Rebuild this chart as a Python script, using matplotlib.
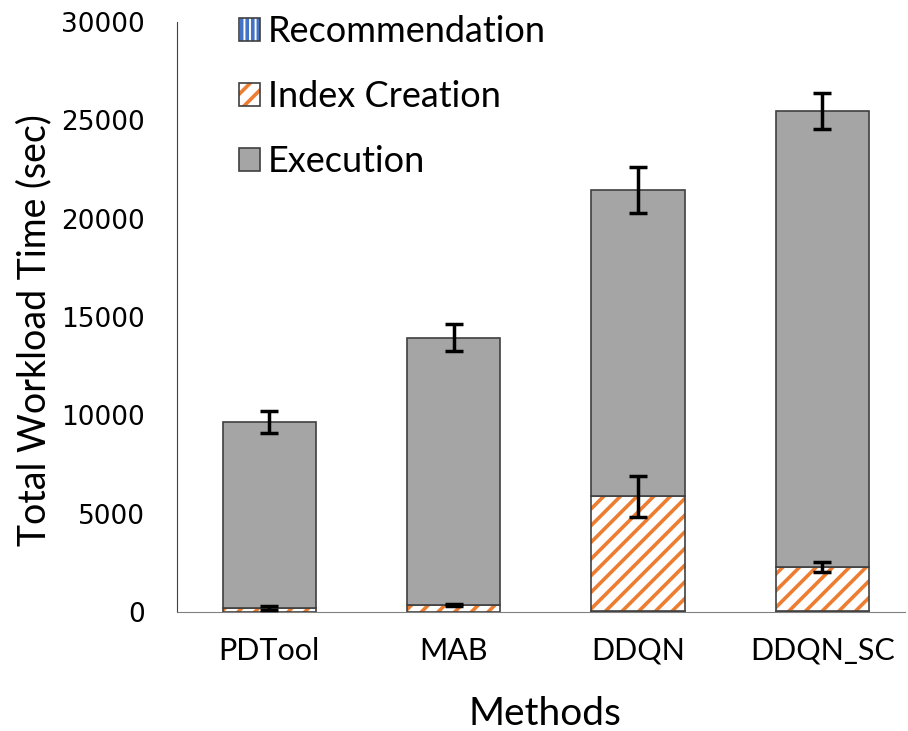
import numpy as np
import matplotlib.pyplot as plt
from matplotlib.patches import Patch
from matplotlib.legend_handler import HandlerTuple

# workload time breakdown per method (seconds)
methods = ["PDTool", "MAB", "DDQN", "DDQN_SC"]
recommendation = [10, 10, 20, 20]
index_creation = [200, 350, 5850, 2250]
index_err = [100, 50, 1050, 250]
execution = [9440, 13590, 15580, 23180]
total_err = [550, 680, 1170, 920]

GRAY = "#a5a5a5"
ORANGE = "#ed7d31"
BLUE = "#4472c4"
EDGE = "#404040"

plt.rcParams["hatch.linewidth"] = 2.6

fig = plt.figure(figsize=(9.08, 7.31), dpi=100)
ax = fig.add_axes([0.195, 0.163, 0.802, 0.807])

x = np.arange(len(methods))
w = 0.505
rec = np.array(recommendation)
idx = np.array(index_creation)
exe = np.array(execution)

# recommendation (bottom, vertical blue stripes)
ax.bar(x, rec, w, color="white", edgecolor=BLUE, hatch="|||", linewidth=0)
ax.bar(x, rec, w, fill=False, edgecolor=EDGE, linewidth=1.2)
# index creation (orange diagonal stripes)
ax.bar(x, idx, w, bottom=rec, color="white", edgecolor=ORANGE, hatch="//", linewidth=0)
ax.bar(x, idx, w, bottom=rec, fill=False, edgecolor=EDGE, linewidth=1.2)
# execution on top
ax.bar(x, exe, w, bottom=rec + idx, color=GRAY, edgecolor=EDGE, linewidth=1.2)

err_kw = dict(fmt="none", ecolor="black", elinewidth=2.5, capsize=6.5, capthick=2.5, zorder=5)
ax.errorbar(x, rec + idx, yerr=index_err, **err_kw)
ax.errorbar(x, rec + idx + exe, yerr=total_err, **err_kw)

ax.set_xlim(-0.5, 3.45)
ax.set_ylim(0, 30000)
ax.set_yticks(np.arange(0, 30001, 5000))
ax.tick_params(axis="both", length=0)
ax.tick_params(axis="y", pad=23)
ax.tick_params(axis="x", pad=18)
ax.set_xticks(x)
ax.set_xticklabels(methods, family="Lato", fontsize=22)
for lab in ax.get_yticklabels():
    lab.set_family("DejaVu Sans")
    lab.set_fontsize(19)

for s in ["top", "right"]:
    ax.spines[s].set_visible(False)
ax.spines["left"].set_color("#404040")
ax.spines["bottom"].set_color("#808080")

ax.set_ylabel("Total Workload Time (sec)", family="Lato", fontsize=27)
ax.yaxis.set_label_coords(-0.172, 0.478)
ax.set_xlabel("Methods", family="Lato", fontsize=28)
ax.xaxis.set_label_coords(0.505, -0.143)

handles = [
    (Patch(facecolor="white", edgecolor=BLUE, hatch="|||", linewidth=0),
     Patch(fill=False, edgecolor=EDGE, linewidth=1.2)),
    (Patch(facecolor="white", edgecolor=ORANGE, hatch="//", linewidth=0),
     Patch(fill=False, edgecolor=EDGE, linewidth=1.2)),
    Patch(facecolor=GRAY, edgecolor=EDGE, linewidth=1.2),
]
ax.legend(handles, ["Recommendation", "Index Creation", "Execution"],
          handler_map={tuple: HandlerTuple(ndivide=1, pad=0)},
          loc="upper left", bbox_to_anchor=(0.243, 1.004), bbox_transform=fig.transFigure,
          frameon=False, borderpad=0, prop={"family": "Lato", "size": 26},
          handlelength=0.6, handleheight=0.6, handletextpad=0.2, labelspacing=0.89)

fig.savefig("out.png", dpi=100)
